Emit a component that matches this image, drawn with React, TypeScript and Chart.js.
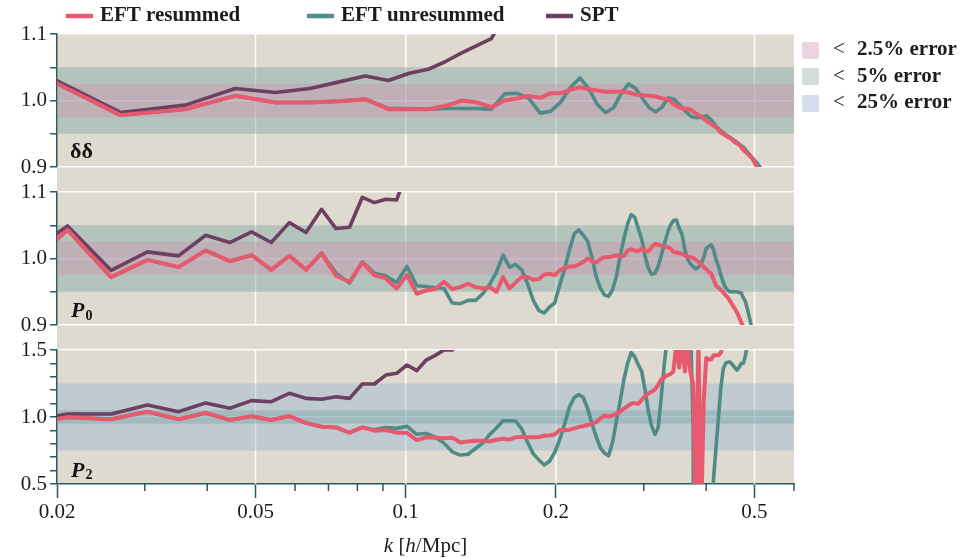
import React, { useEffect, useRef } from 'react';
import { Chart, registerables } from 'chart.js';

Chart.register(...registerables);

const RED = '#e8596d';
const TEAL = '#4f8c87';
const PURPLE = '#6d3f61';
const AXIS = '#2a5a5f';
const BEIGE = '#dedad0';
const TXT = '#1c1c1c';
const FONT = '"Liberation Serif", "DejaVu Serif", serif';
const GREEN_BAND = 'rgba(120,160,160,0.4)';
const PINK_BAND = 'rgba(208,145,174,0.4)';
const BLUE_BAND = 'rgba(145,178,210,0.4)';
const PINK_SW = '#ebd4df';
const GREEN_SW = '#cfdedb';
const BLUE_SW = '#d3deea';

// ---- panel 1 (delta-delta) k grid and series ----
const kAuto = [0.01744, 0.0268, 0.03616, 0.04552, 0.05488, 0.06424, 0.0736, 0.08296, 0.09232, 0.10168,
  0.11104, 0.1204, 0.12976, 0.13912, 0.14848, 0.15784, 0.1672, 0.17656, 0.18592, 0.19528,
  0.20464, 0.214, 0.22336, 0.23272, 0.24208, 0.25144, 0.2608, 0.27016, 0.27952, 0.28888,
  0.29824, 0.3076, 0.31696, 0.32632, 0.33568, 0.34504, 0.3544, 0.36376, 0.37312, 0.38248,
  0.39184, 0.4012, 0.41056, 0.41992, 0.42928, 0.43864, 0.448, 0.45736, 0.46672, 0.47608,
  0.48544, 0.4948, 0.50416, 0.51352, 0.52288];
const autoResummed = [1.048, 0.978, 0.987, 1.007, 0.997, 0.997, 0.999, 1.002, 0.987, 0.987,
  0.987, 0.992, 1.000, 0.997, 0.990, 1.000, 1.003, 1.007, 1.004, 1.011,
  1.011, 1.016, 1.020, 1.017, 1.015, 1.013, 1.013, 1.013, 1.012, 1.009,
  1.008, 1.007, 1.006, 1.003, 1.002, 0.994, 0.989, 0.988, 0.986, 0.980,
  0.975, 0.969, 0.964, 0.959, 0.951, 0.947, 0.943, 0.937, 0.933, 0.925,
  0.919, 0.913, 0.902, 0.890, 0.880];
const autoUnresummed = [1.048, 0.978, 0.987, 1.007, 0.997, 0.997, 0.999, 1.002, 0.988, 0.988,
  0.987, 0.988, 0.988, 0.988, 0.987, 1.010, 1.011, 1.003, 0.981, 0.984,
  0.998, 1.020, 1.034, 1.018, 0.994, 0.982, 0.989, 1.010, 1.025, 1.018,
  1.003, 0.989, 0.983, 0.990, 1.004, 1.002, 0.993, 0.984, 0.976, 0.974,
  0.975, 0.977, 0.970, 0.960, 0.954, 0.948, 0.944, 0.939, 0.934, 0.929,
  0.921, 0.914, 0.907, 0.899, 0.890];
const autoSpt = [1.052, 0.982, 0.993, 1.018, 1.012, 1.018, 1.028, 1.037, 1.030, 1.041,
  1.047, 1.059, 1.072, 1.083, 1.093, 1.130];

// ---- multipole panels k grid and series ----
const kPole = [0.01632, 0.021, 0.02568, 0.03036, 0.03504, 0.03972, 0.0444, 0.04908, 0.05376, 0.05844,
  0.06312, 0.0678, 0.07248, 0.07716, 0.08184, 0.08652, 0.0912, 0.09588, 0.10056, 0.10524,
  0.10992, 0.1146, 0.11928, 0.12396, 0.12864, 0.13332, 0.138, 0.14268, 0.14736, 0.15204,
  0.15672, 0.1614, 0.16608, 0.17076, 0.17544, 0.18012, 0.1848, 0.18948, 0.19416, 0.19884,
  0.20352, 0.2082, 0.21288, 0.21756, 0.22224, 0.22692, 0.2316, 0.23628, 0.24096, 0.24564,
  0.25032, 0.255, 0.25968, 0.26436, 0.26904, 0.27372, 0.2784, 0.28308, 0.28776, 0.29244,
  0.29712, 0.3018, 0.30648, 0.31116, 0.31584, 0.32052, 0.3252, 0.32988, 0.33456, 0.33924,
  0.34392, 0.3486, 0.35328, 0.35796, 0.36264, 0.36732, 0.372, 0.37668, 0.38136, 0.38604,
  0.39072, 0.3954, 0.40008, 0.40476, 0.40944, 0.41412, 0.4188, 0.42348, 0.42816, 0.43284,
  0.43752, 0.4422, 0.44688, 0.45156, 0.45624, 0.46092, 0.4656, 0.47028, 0.47496, 0.47964,
  0.48432, 0.489, 0.49368, 0.49836, 0.50304];

const p0Resummed = [0.971, 1.043, 0.972, 0.998, 0.987, 1.012, 0.996, 1.005, 0.983, 1.004,
  0.983, 1.008, 0.974, 0.965, 0.994, 0.975, 0.970, 0.955, 0.975, 0.947,
  0.952, 0.954, 0.965, 0.954, 0.957, 0.962, 0.957, 0.955, 0.957, 0.950,
  0.972, 0.955, 0.964, 0.972, 0.972, 0.968, 0.969, 0.976, 0.977, 0.975,
  0.982, 0.986, 0.988, 0.988, 0.991, 0.995, 1.000, 0.996, 0.994, 0.999,
  1.002, 1.002, 1.003, 1.005, 1.003, 1.004, 1.012, 1.014, 1.012, 1.011,
  1.015, 1.012, 1.011, 1.017, 1.022, 1.021, 1.019, 1.018, 1.017, 1.015,
  1.010, 1.009, 1.008, 1.007, 1.005, 1.003, 1.002, 1.001, 0.998, 0.995,
  0.992, 0.987, 0.984, 0.980, 0.977, 0.968, 0.959, 0.956, 0.953, 0.949,
  0.945, 0.941, 0.936, 0.930, 0.925, 0.919, 0.912, 0.904, 0.897, 0.890];
const p0Unresummed = [0.971, 1.043, 0.972, 0.998, 0.987, 1.012, 0.996, 1.005, 0.983, 1.004,
  0.983, 1.008, 0.978, 0.963, 0.995, 0.978, 0.974, 0.964, 0.988, 0.959,
  0.958, 0.956, 0.955, 0.933, 0.932, 0.937, 0.937, 0.947, 0.961, 0.980,
  1.005, 0.987, 0.991, 0.983, 0.962, 0.937, 0.922, 0.918, 0.927, 0.933,
  0.960, 0.984, 1.013, 1.037, 1.043, 1.035, 1.026, 1.001, 0.972, 0.955,
  0.945, 0.943, 0.953, 0.973, 1.004, 1.030, 1.052, 1.066, 1.062, 1.045,
  1.029, 1.003, 0.985, 0.976, 0.978, 0.988, 1.005, 1.022, 1.038, 1.050,
  1.057, 1.058, 1.045, 1.036, 1.013, 0.999, 0.992, 0.988, 0.984, 0.987,
  0.992, 1.001, 1.015, 1.018, 1.021, 1.013, 0.998, 0.988, 0.975, 0.964,
  0.956, 0.952, 0.950, 0.950, 0.950, 0.950, 0.949, 0.948, 0.941, 0.935,
  0.923, 0.910, 0.895, 0.880];
const p0Spt = [0.991, 1.049, 0.982, 1.010, 1.004, 1.035, 1.024, 1.040, 1.024, 1.054,
  1.039, 1.074, 1.045, 1.047, 1.092, 1.084, 1.089, 1.088, 1.130];

const p2Resummed = [0.93, 0.998, 0.983, 1.040, 0.983, 1.030, 0.978, 1.005, 0.978, 1.007,
  0.955, 0.928, 0.922, 0.883, 0.923, 0.898, 0.903, 0.883, 0.882, 0.828,
  0.848, 0.845, 0.842, 0.846, 0.810, 0.818, 0.822, 0.823, 0.817, 0.830,
  0.838, 0.832, 0.848, 0.852, 0.849, 0.848, 0.851, 0.860, 0.862, 0.870,
  0.903, 0.902, 0.905, 0.915, 0.925, 0.932, 0.940, 0.951, 0.962, 0.990,
  1.012, 1.003, 1.012, 1.024, 1.043, 1.062, 1.082, 1.100, 1.104, 1.097,
  1.128, 1.155, 1.176, 1.190, 1.205, 1.240, 1.280, 1.296, 1.313, 1.320,
  1.340, 1.550, 1.370, 1.550, 1.340, 1.550, 1.330, 1.250, 0.200, 1.600,
  0.200, 1.100, 1.440, 1.430, 1.430, 1.460, 1.460, 1.460, 1.480, 1.550,
  1.600, 1.650, 1.700, 1.750, 1.800];
const p2Unresummed = [0.93, 0.998, 0.983, 1.040, 0.983, 1.030, 0.978, 1.005, 0.978, 1.007,
  0.955, 0.928, 0.922, 0.883, 0.923, 0.905, 0.921, 0.915, 0.930, 0.871,
  0.877, 0.850, 0.805, 0.740, 0.716, 0.722, 0.765, 0.805, 0.870, 0.920,
  0.972, 0.972, 0.970, 0.912, 0.812, 0.725, 0.680, 0.642, 0.670, 0.735,
  0.830, 0.950, 1.075, 1.145, 1.168, 1.145, 1.060, 0.950, 0.850, 0.770,
  0.730, 0.710, 0.810, 0.970, 1.120, 1.280, 1.400, 1.480, 1.450, 1.390,
  1.340, 1.200, 1.040, 0.930, 0.870, 0.920, 1.150, 1.400, 1.600, 1.800,
  1.900, 2.000, 2.000, 1.900, 1.800, 1.700, 1.700, 0.920, -5.0, -3.0,
  -2.0, -1.0, -0.5, 0.0, 0.300, 0.550, 0.780, 1.000, 1.220, 1.360,
  1.400, 1.410, 1.410, 1.390, 1.370, 1.350, 1.370, 1.400, 1.400, 1.460,
  1.550, 1.700];
const p2Spt = [0.95, 1.022, 1.022, 1.090, 1.040, 1.105, 1.065, 1.122, 1.114, 1.177,
  1.139, 1.132, 1.151, 1.139, 1.246, 1.246, 1.313, 1.326, 1.388, 1.346,
  1.425, 1.460, 1.500, 1.500, 1.560, 1.650, 1.800];

// ---- axes ----
const xTicks = [0.02, 0.05, 0.1, 0.2, 0.5];
const xTickLabels = ['0.02', '0.05', '0.1', '0.2', '0.5'];
const xMinorTicks = [0.03, 0.04, 0.06, 0.07, 0.08, 0.09, 0.3, 0.4, 0.6];
const xGridValues = [0.05, 0.1, 0.2, 0.5];
const smallTicks = [0.9, 0.95, 1.0, 1.05, 1.1];
const smallTickLabels = ['0.9', '', '1.0', '', '1.1'];
const bigTicks = [0.5, 0.6, 0.7, 0.8, 0.9, 1.0, 1.1, 1.2, 1.3, 1.4, 1.5];
const bigTickLabels = ['0.5', '', '', '', '', '1.0', '', '', '', '', '1.5'];

const seriesLabels = ['EFT resummed', 'EFT unresummed', 'SPT'];
const bandLabels = ['2.5% error', '5% error', '25% error'];
const pctBand = [0.975, 1.025];
const fiveBand = [0.95, 1.05];
const quarterBand = [0.75, 1.25];

const pts = (ks: number[], vs: number[]) => vs.map((v, i) => ({ x: ks[i], y: v }));

const panelY = (weight: number, stackWeight: number, min: number, max: number, ticks: number[], labels: string[]) => ({
  type: 'linear',
  position: 'left',
  stack: 'panels',
  stackWeight,
  weight,
  min,
  max,
  afterBuildTicks: (s: any) => { s.ticks = ticks.map((v) => ({ value: v })); },
  afterFit: (s: any) => { s.width = 57; },
  ticks: {
    autoSkip: false,
    callback: (_v: any, i: number) => labels[i] ?? '',
    font: { family: FONT, size: 21 },
    color: TXT,
    padding: 3,
  },
  grid: {
    display: true,
    drawOnChartArea: true,
    drawTicks: true,
    color: (c: any) => (labels[c.index] ? 'rgba(255,255,255,0.95)' : 'rgba(0,0,0,0)'),
    lineWidth: 1.5,
    tickColor: AXIS,
    tickWidth: 1.5,
    tickLength: 7,
  },
  border: { display: true, color: AXIS, width: 1.5 },
});

const gapY = (weight: number, stackWeight: number) => ({
  type: 'linear',
  position: 'left',
  stack: 'panels',
  stackWeight,
  weight,
  min: 0,
  max: 1,
  afterFit: (s: any) => { s.width = 57; },
  ticks: { display: false },
  grid: { display: false },
  border: { display: false },
});

const lineDs = (label: string, data: any[], color: string, yAxisID: string, width: number) => ({
  label,
  data,
  borderColor: color,
  backgroundColor: color,
  borderWidth: width,
  pointRadius: 0,
  pointHoverRadius: 0,
  fill: false,
  tension: 0,
  borderJoinStyle: 'round',
  borderCapStyle: 'butt',
  xAxisID: 'x',
  yAxisID,
});

const panelPlugin = {
  id: 'panelPlugin',
  beforeDraw(chart: any) {
    const { ctx, chartArea: a } = chart;
    ctx.save();
    ctx.fillStyle = BEIGE;
    ctx.fillRect(a.left, a.top, a.right - a.left, a.bottom - a.top);
    ctx.restore();
  },
  beforeDatasetsDraw(chart: any) {
    const { ctx, chartArea: a, scales } = chart;
    const x = scales.x;
    ctx.save();
    for (const id of ['yAuto', 'yP0', 'yP2']) {
      const s = scales[id];
      ctx.strokeStyle = 'rgba(255,255,255,0.95)';
      ctx.lineWidth = 1.5;
      for (const v of xGridValues) {
        const px = x.getPixelForValue(v);
        ctx.beginPath();
        ctx.moveTo(px, s.top);
        ctx.lineTo(px, s.bottom);
        ctx.stroke();
      }
      const bands: [number[], string][] = id === 'yP2'
        ? [[quarterBand, BLUE_BAND], [fiveBand, GREEN_BAND]]
        : [[fiveBand, GREEN_BAND], [pctBand, PINK_BAND]];
      for (const [b, col] of bands) {
        const y1 = s.getPixelForValue(b[1]);
        const y2 = s.getPixelForValue(b[0]);
        ctx.fillStyle = col;
        ctx.fillRect(a.left + 1, y1, a.right - a.left - 1, y2 - y1);
      }
    }
    ctx.restore();
  },
  beforeDatasetDraw(chart: any, args: any) {
    const ys = args.meta.yScale;
    const a = chart.chartArea;
    const ctx = chart.ctx;
    ctx.save();
    ctx.beginPath();
    ctx.rect(a.left, ys.top, a.right - a.left, ys.bottom - ys.top);
    ctx.clip();
  },
  afterDatasetDraw(chart: any) {
    chart.ctx.restore();
  },
  afterDraw(chart: any) {
    const { ctx, chartArea: a, scales } = chart;
    ctx.save();
    // minor x ticks
    ctx.strokeStyle = AXIS;
    ctx.lineWidth = 1.5;
    for (const v of xMinorTicks) {
      const px = scales.x.getPixelForValue(v);
      ctx.beginPath();
      ctx.moveTo(px, a.bottom);
      ctx.lineTo(px, a.bottom + 7);
      ctx.stroke();
    }
    // top legend
    const cols = [RED, TEAL, PURPLE];
    const lx = [66, 307, 546];
    ctx.font = `bold 21px ${FONT}`;
    ctx.textBaseline = 'alphabetic';
    ctx.textAlign = 'left';
    seriesLabels.forEach((lab, i) => {
      ctx.strokeStyle = cols[i];
      ctx.lineWidth = 4.5;
      ctx.beginPath();
      ctx.moveTo(lx[i], 16);
      ctx.lineTo(lx[i] + 27, 16);
      ctx.stroke();
      ctx.fillStyle = TXT;
      ctx.fillText(lab, lx[i] + 34, 21);
    });
    // right legend
    const sw = [PINK_SW, GREEN_SW, BLUE_SW];
    const sy = [42, 68, 95];
    const by = [55, 81.5, 108];
    bandLabels.forEach((lab, i) => {
      ctx.fillStyle = sw[i];
      ctx.beginPath();
      if (ctx.roundRect) ctx.roundRect(802, sy[i], 17, 17, 2); else ctx.rect(802, sy[i], 17, 17);
      ctx.fill();
      ctx.fillStyle = TXT;
      ctx.font = `21px ${FONT}`;
      ctx.fillText('<', 833, by[i]);
      ctx.font = `bold 21px ${FONT}`;
      ctx.fillText(lab, 857, by[i]);
    });
    // panel labels
    ctx.fillStyle = '#111';
    ctx.font = `bold 22px ${FONT}`;
    ctx.fillText('δδ', 70, 158);
    ctx.font = `italic bold 22px ${FONT}`;
    ctx.fillText('P', 71, 317);
    ctx.fillText('P', 71, 476.5);
    ctx.font = `bold 14px ${FONT}`;
    ctx.fillText('0', 85.5, 320);
    ctx.fillText('2', 85.5, 479);
    // x title
    const parts: [string, string][] = [
      ['k', `italic 21px ${FONT}`],
      [' [', `21px ${FONT}`],
      ['h', `italic 21px ${FONT}`],
      ['/Mpc]', `21px ${FONT}`],
    ];
    let total = 0;
    for (const [t, f] of parts) { ctx.font = f; total += ctx.measureText(t).width; }
    let cx = (a.left + a.right) / 2 - total / 2;
    ctx.fillStyle = TXT;
    for (const [t, f] of parts) { ctx.font = f; ctx.fillText(t, cx, 552); cx += ctx.measureText(t).width; }
    ctx.restore();
  },
};

export default function App() {
  const ref = useRef<HTMLCanvasElement | null>(null);
  useEffect(() => {
    if (!ref.current) return;
    const chart = new Chart(ref.current, {
      type: 'line',
      data: {
        datasets: [
          lineDs(seriesLabels[0], pts(kAuto, autoResummed), RED, 'yAuto', 4),
          lineDs(seriesLabels[1], pts(kAuto, autoUnresummed), TEAL, 'yAuto', 3.6),
          lineDs(seriesLabels[2], pts(kAuto, autoSpt), PURPLE, 'yAuto', 3.6),
          lineDs(seriesLabels[0], pts(kPole, p0Resummed), RED, 'yP0', 4),
          lineDs(seriesLabels[1], pts(kPole, p0Unresummed), TEAL, 'yP0', 3.6),
          lineDs(seriesLabels[2], pts(kPole, p0Spt), PURPLE, 'yP0', 3.6),
          lineDs(seriesLabels[0], pts(kPole, p2Resummed), RED, 'yP2', 4),
          lineDs(seriesLabels[1], pts(kPole, p2Unresummed), TEAL, 'yP2', 3.6),
          lineDs(seriesLabels[2], pts(kPole, p2Spt), PURPLE, 'yP2', 3.6),
        ] as any,
      },
      options: {
        animation: false,
        responsive: true,
        maintainAspectRatio: false,
        devicePixelRatio: 1,
        layout: { padding: { top: 34, right: 166, left: 0, bottom: 0 } },
        plugins: { legend: { display: false }, tooltip: { enabled: false } },
        events: [],
        scales: {
          x: {
            type: 'logarithmic',
            position: 'bottom',
            min: 0.02,
            max: 0.6,
            afterBuildTicks: (s: any) => { s.ticks = xTicks.map((v) => ({ value: v })); },
            afterFit: (s: any) => { s.height = 74; },
            ticks: {
              autoSkip: false,
              maxRotation: 0,
              minRotation: 0,
              callback: (_v: any, i: number) => xTickLabels[i] ?? '',
              font: { family: FONT, size: 21 },
              color: TXT,
              padding: 2,
            },
            grid: {
              display: true,
              drawOnChartArea: false,
              drawTicks: true,
              tickLength: 14,
              tickColor: AXIS,
              tickWidth: 1.5,
            },
            border: { display: true, color: AXIS, width: 1.5 },
          },
          yAuto: panelY(5, 133, 0.9, 1.1, smallTicks, smallTickLabels),
          gap1: gapY(4, 25),
          yP0: panelY(3, 133, 0.9, 1.1, smallTicks, smallTickLabels),
          gap2: gapY(2, 25),
          yP2: panelY(1, 134, 0.5, 1.5, bigTicks, bigTickLabels),
        } as any,
      },
      plugins: [panelPlugin as any],
    });
    return () => chart.destroy();
  }, []);
  return (
    <div style={{ position: 'fixed', left: 0, top: 0, width: 960, height: 558 }}>
      <canvas ref={ref} />
    </div>
  );
}
